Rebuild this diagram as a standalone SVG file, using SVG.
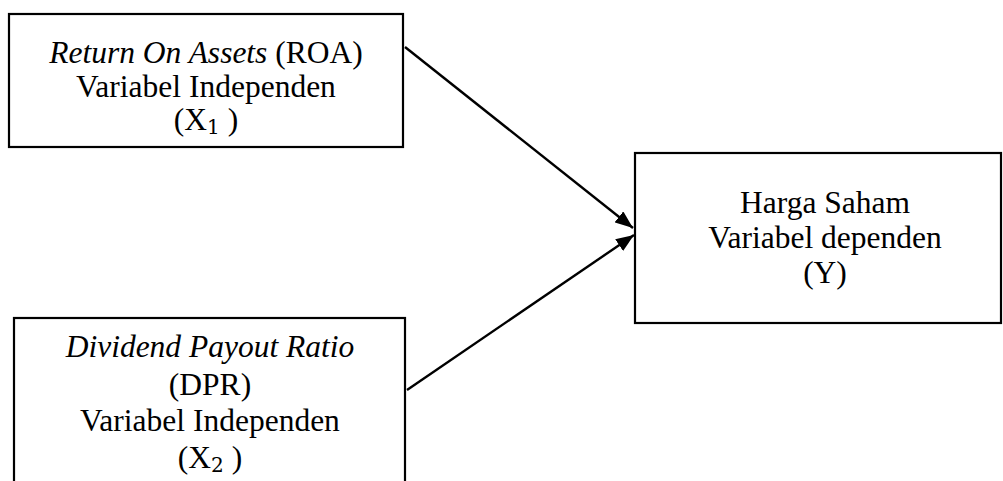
<svg xmlns="http://www.w3.org/2000/svg" width="1003" height="481" viewBox="0 0 1003 481">
<style>
.box{fill:#fff;stroke:#000;stroke-width:2.2}
.t{font-family:"Liberation Serif","Times New Roman",serif;font-size:31.5px;fill:#000;text-anchor:middle}
.i{font-style:italic}
.sub{font-family:"DejaVu Serif",serif;font-size:20px}
.conn{stroke:#000;stroke-width:2.4;fill:none}
</style>
<defs>
<marker id="arrow" viewBox="0 0 18 14" refX="18" refY="7" markerWidth="18" markerHeight="14" markerUnits="userSpaceOnUse" orient="auto">
<path d="M0,0 L18,7 L0,14 z" fill="#000"/>
</marker>
</defs>
<rect width="1003" height="481" fill="#fff"/>
<g id="connectors">
<line class="conn" x1="405" y1="47" x2="633" y2="228" marker-end="url(#arrow)"/>
<line class="conn" x1="407" y1="390" x2="634" y2="235" marker-end="url(#arrow)"/>
</g>
<g id="node-roa">
<rect class="box" x="9" y="14" width="394" height="133"/>
<text class="t" x="206" y="63"><tspan class="i">Return On Assets</tspan> (ROA)</text>
<text class="t" x="206" y="97">Variabel Independen</text>
<text class="t" x="206" y="130">(X<tspan class="sub" dy="4">1</tspan><tspan dy="-4"> )</tspan></text>
</g>
<g id="node-dpr">
<rect class="box" x="14" y="318" width="391" height="180"/>
<text class="t i" x="210" y="357">Dividend Payout Ratio</text>
<text class="t" x="210" y="395">(DPR)</text>
<text class="t" x="210" y="431">Variabel Independen</text>
<text class="t" x="210" y="468">(X<tspan class="sub" dy="4">2</tspan><tspan dy="-4"> )</tspan></text>
</g>
<g id="node-harga">
<rect class="box" x="635" y="153" width="366" height="170"/>
<text class="t" x="825" y="213">Harga Saham</text>
<text class="t" x="825" y="248">Variabel dependen</text>
<text class="t" x="825" y="283">(Y)</text>
</g>
</svg>
